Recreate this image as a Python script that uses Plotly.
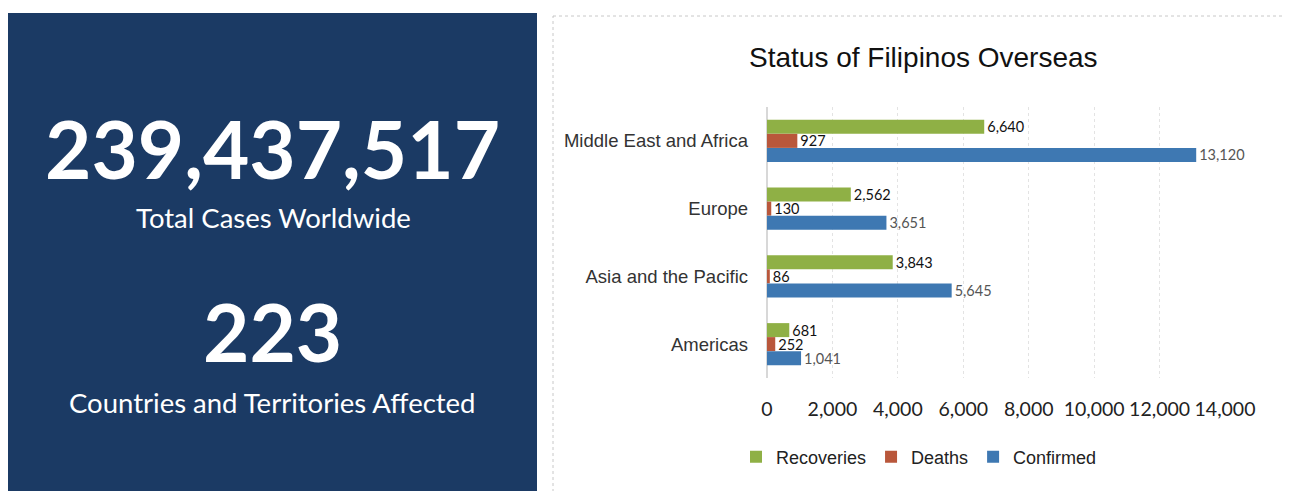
import plotly.graph_objects as go

categories = ["Middle East and Africa", "Europe", "Asia and the Pacific", "Americas"]
recoveries = [6640, 2562, 3843, 681]
deaths = [927, 130, 86, 252]
confirmed = [13120, 3651, 5645, 1041]
x_ticks = [0, 2000, 4000, 6000, 8000, 10000, 12000, 14000]
x_tick_labels = ["0", "2,000", "4,000", "6,000", "8,000", "10,000", "12,000", "14,000"]
total_cases = "239,437,517"
total_cases_label = "Total Cases Worldwide"
countries = "223"
countries_label = "Countries and Territories Affected"
chart_title = "Status of Filipinos Overseas"

W, H = 1292, 491
OFF = 8  # page body margin
L, R, T, B = 767 - OFF, 1225 - OFF, 107 - OFF, 378 - OFF  # plot area pixels (figure coords)

def px(x):
    return (x - OFF - L) / (R - L)

def py(y):
    return (B - (y - OFF)) / (B - T)

GREEN = "#8fb045"
RED = "#b9573b"
BLUE = "#3e78b2"
ARIAL = "Liberation Sans, Arial, sans-serif"
CAL = "Lato, Carlito, Calibri, Open Sans, sans-serif"

fmt = lambda v: f"{v:,}"

fig = go.Figure()
series = [
    ("Recoveries", recoveries, GREEN, "#111111"),
    ("Deaths", deaths, RED, "#111111"),
    ("Confirmed", confirmed, BLUE, "#555555"),
]
for name, vals, col, tcol in series:
    fig.add_trace(go.Bar(
        name=name, y=categories, x=vals, orientation="h",
        marker=dict(color=col, line=dict(width=0)),
        text=[fmt(v) for v in vals], textposition="outside", constraintext="none",
        textfont=dict(family=CAL, size=14.5, color=tcol),
        cliponaxis=False,
    ))

fig.update_layout(
    width=W, height=H,
    margin=dict(l=L, r=W - R, t=T, b=H - B),
    paper_bgcolor="white", plot_bgcolor="white",
    barmode="group", bargap=0.38, bargroupgap=0.0,
    showlegend=True,
    legend=dict(orientation="h", x=px(736), y=py(457), xanchor="left", yanchor="middle",
                font=dict(family=ARIAL, size=18, color="#222222"),
                traceorder="normal", itemwidth=30, bgcolor="rgba(0,0,0,0)"),
    font=dict(family=ARIAL, color="#222222"),
    xaxis=dict(range=[0, 14000], tickvals=x_ticks, ticktext=x_tick_labels,
               showgrid=True, gridcolor="#e3e3e3", griddash="dot", gridwidth=1,
               zeroline=True, zerolinecolor="#d8d8d8", showline=False, ticks="",
               tickfont=dict(family=CAL, size=19.5, color="#222222"), ticklabelstandoff=17,
               fixedrange=True),
    yaxis=dict(autorange="reversed", showgrid=False, ticks="", showline=False,
               tickfont=dict(family=ARIAL, size=18.5, color="#333333"), ticklabelstandoff=18,
               fixedrange=True),
)

shapes = [
    # left navy panel
    dict(type="rect", xref="paper", yref="paper", x0=px(7), x1=px(537), y0=py(13), y1=py(505),
         fillcolor="#1b3a64", line=dict(width=0), layer="below"),
    # right panel dotted border
    dict(type="rect", xref="paper", yref="paper", x0=px(553), x1=px(1289), y0=py(16), y1=py(505),
         fillcolor="rgba(0,0,0,0)", line=dict(color="#c8c8c8", width=1, dash="dot"), layer="below"),
]
fig.update_layout(shapes=shapes)

ann = [
    dict(text=f"<b>{total_cases}</b>", x=px(272), y=py(148), size=80),
    dict(text=total_cases_label, x=px(273), y=py(217), size=27.5),
    dict(text=f"<b>{countries}</b>", x=px(272), y=py(331), size=80),
    dict(text=countries_label, x=px(272), y=py(402), size=27.5),
]
for a in ann:
    fig.add_annotation(text=a["text"], xref="paper", yref="paper", x=a["x"], y=a["y"],
                       xanchor="center", yanchor="middle", showarrow=False,
                       font=dict(family=CAL, size=a["size"], color="white"))
fig.add_annotation(text=chart_title, xref="paper", yref="paper", x=px(923), y=py(57),
                   xanchor="center", yanchor="middle", showarrow=False,
                   font=dict(family=ARIAL, size=28, color="#111111"))

fig.write_html("out.html")
